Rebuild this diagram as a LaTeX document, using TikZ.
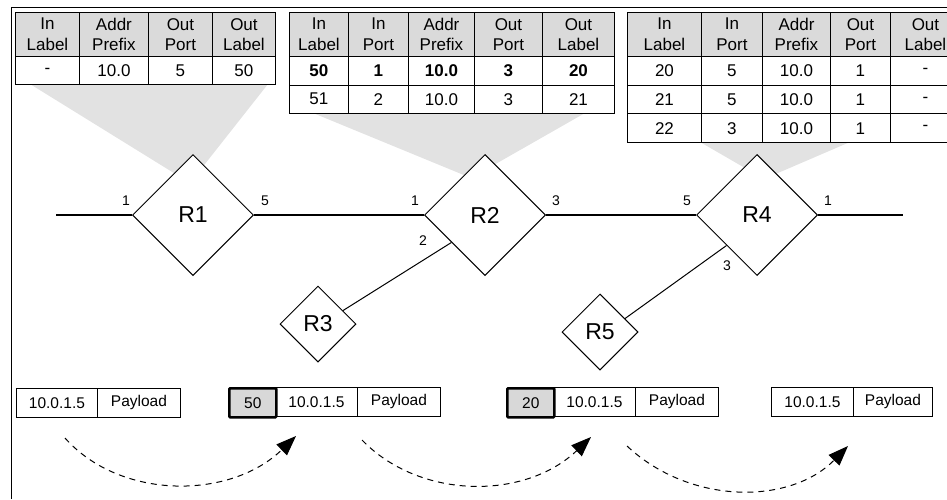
\documentclass[tikz,border=0pt]{standalone}
\usepackage{fontspec}
\setmainfont{Liberation Sans}
\usetikzlibrary{shapes.geometric,arrows.meta,calc}
\definecolor{hdrgray}{RGB}{218,218,218}
\definecolor{fungray}{RGB}{226,226,226}
\definecolor{lblgray}{RGB}{216,216,216}
\begin{document}
\begin{tikzpicture}[x=1pt,y=-1pt,
  hcell/.style={draw, fill=hdrgray, line width=0.9pt, inner sep=0pt, anchor=north west, align=center, minimum height=44pt, font=\fontsize{17}{20.5}\selectfont},
  dcell/.style={draw, fill=white, line width=0.9pt, inner sep=0pt, anchor=north west, font=\fontsize{17}{20.5}\selectfont},
  bcell/.style={dcell, font=\fontsize{17}{20.5}\selectfont\bfseries},
  router/.style={diamond, draw, fill=white, line width=1pt, inner sep=0pt, aspect=1, minimum width=121pt, minimum height=121pt, font=\fontsize{23}{26}\selectfont},
  srouter/.style={router, minimum width=76pt, minimum height=76pt},
  mainline/.style={line width=2pt},
  link/.style={line width=1pt},
  port/.style={inner sep=0pt, font=\fontsize{14}{16}\selectfont},
  funnel/.style={fill=fungray, draw=none},
  pcell/.style={draw, fill=white, line width=0.9pt, inner sep=0pt, anchor=north west, minimum height=29pt, font=\fontsize{15.5}{18}\selectfont},
  lcell/.style={pcell, fill=lblgray, line width=2.5pt, rounded corners=1pt},
  flow/.style={line width=1pt, dash pattern=on 6pt off 5pt, -{Triangle[length=20pt,width=15pt]}}
]
\useasboundingbox (0,0) rectangle (947,499);
\clip (0,0) rectangle (947,499);

% frame
\draw[line width=1pt] (11,499) -- (11,7) -- (947,7);

% funnels
\fill[funnel] (30,84) -- (268,84) -- (190,183) -- cycle;
\fill[funnel] (313,113) -- (585,113) -- (471,178) -- cycle;
\fill[funnel] (700,142) -- (850,142) -- (764,179) -- cycle;

% routers
\node[router] (R1) at (193,215) {R1};
\node[router] (R2) at (485,215) {R2};
\node[router] (R4) at (757,215) {R4};
\node[srouter] (R3) at (318,324) {R3};
\node[srouter] (R5) at (600,332) {R5};

\coordinate (lstart) at (56,215);
\coordinate (lend) at (903,215);
\draw[mainline] (lstart) -- (R1.west);
\draw[mainline] (R1.east) -- (R2.west);
\draw[mainline] (R2.east) -- (R4.west);
\draw[mainline] (R4.east) -- (lend);
\draw[link] ($(R3.north)!0.65!(R3.east)$) -- ($(R2.west)!0.45!(R2.south)$);
\draw[link] ($(R5.north)!0.65!(R5.east)$) -- ($(R4.west)!0.5!(R4.south)$);

% port labels
\node[port] (p11) at (126,201) {1};
\node[port] (p15) at (265,201) {5};
\node[port] (p21) at (415,201) {1};
\node[port] (p22) at (423,241) {2};
\node[port] (p23) at (556,201) {3};
\node[port] (p45) at (687,201) {5};
\node[port] (p41) at (828,201) {1};
\node[port] (p43) at (727,266) {3};

% table 1
\foreach \x/\w/\txt [count=\i] in {15/64/{In\\Label}, 79/69/{Addr\\Prefix}, 148/64/{Out\\Port}, 212/63/{Out\\Label}}
  \node[hcell, minimum width=\w pt] (ta-h\i) at (\x,12) {\txt};
\foreach \x/\w/\txt [count=\i] in {15/64/-, 79/69/10.0, 148/64/5, 212/63/50}
  \node[dcell, minimum width=\w pt, minimum height=28pt] (ta-a\i) at (\x,56) {\txt};

% table 2
\foreach \x/\w/\txt [count=\i] in {289/59/{In\\Label}, 348/60/{In\\Port}, 408/66/{Addr\\Prefix}, 474/68/{Out\\Port}, 542/72/{Out\\Label}}
  \node[hcell, minimum width=\w pt] (tb-h\i) at (\x,12) {\txt};
\foreach \x/\w/\txt [count=\i] in {289/59/50, 348/60/1, 408/66/10.0, 474/68/3, 542/72/20}
  \node[bcell, minimum width=\w pt, minimum height=28.5pt] (tb-a\i) at (\x,56) {\txt};
\foreach \x/\w/\txt [count=\i] in {289/59/51, 348/60/2, 408/66/10.0, 474/68/3, 542/72/21}
  \node[dcell, minimum width=\w pt, minimum height=28.5pt] (tb-b\i) at (\x,84.5) {\txt};

% table 3
\foreach \x/\w/\txt [count=\i] in {627/74/{In\\Label}, 701/61/{In\\Port}, 762/68/{Addr\\Prefix}, 830/60/{Out\\Port}, 890/70/{Out\\Label}}
  \node[hcell, minimum width=\w pt] (tc-h\i) at (\x,12) {\txt};
\foreach \x/\w/\txt [count=\i] in {627/74/20, 701/61/5, 762/68/10.0, 830/60/1, 890/70/-}
  \node[dcell, minimum width=\w pt, minimum height=28.7pt] (tc-a\i) at (\x,56) {\txt};
\foreach \x/\w/\txt [count=\i] in {627/74/21, 701/61/5, 762/68/10.0, 830/60/1, 890/70/-}
  \node[dcell, minimum width=\w pt, minimum height=28.7pt] (tc-b\i) at (\x,84.7) {\txt};
\foreach \x/\w/\txt [count=\i] in {627/74/22, 701/61/3, 762/68/10.0, 830/60/1, 890/70/-}
  \node[dcell, minimum width=\w pt, minimum height=28.7pt] (tc-c\i) at (\x,113.4) {\txt};

% packets
\node[pcell, minimum width=81pt] (pa1) at (16,388) {10.0.1.5};
\node[pcell, minimum width=83pt] (pa2) at (97,388) {Payload};

\node[pcell, minimum width=82pt] (pb1) at (275,387) {10.0.1.5};
\node[pcell, minimum width=83pt] (pb2) at (357,387) {Payload};
\node[lcell, minimum width=47pt] (pb0) at (228,387) {50};

\node[pcell, minimum width=82pt] (pc1) at (553,387) {10.0.1.5};
\node[pcell, minimum width=83pt] (pc2) at (635,387) {Payload};
\node[lcell, minimum width=47pt] (pc0) at (506,387) {20};

\node[pcell, minimum width=82pt] (pd1) at (771,387) {10.0.1.5};
\node[pcell, minimum width=79pt] (pd2) at (853,387) {Payload};

% flow arrows
\coordinate (s1) at (65,438);
\coordinate (e1) at (296,436);
\coordinate (s2) at (362,440);
\coordinate (e2) at (591,437);
\coordinate (s3) at (627,446);
\coordinate (e3) at (848,446);
\draw[flow] (s1) .. controls (120,500) and (230,500) .. (e1);
\draw[flow] (s2) .. controls (420,500) and (525,500) .. (e2);
\draw[flow] (s3) .. controls (690,505) and (790,505) .. (e3);
\end{tikzpicture}
\end{document}
